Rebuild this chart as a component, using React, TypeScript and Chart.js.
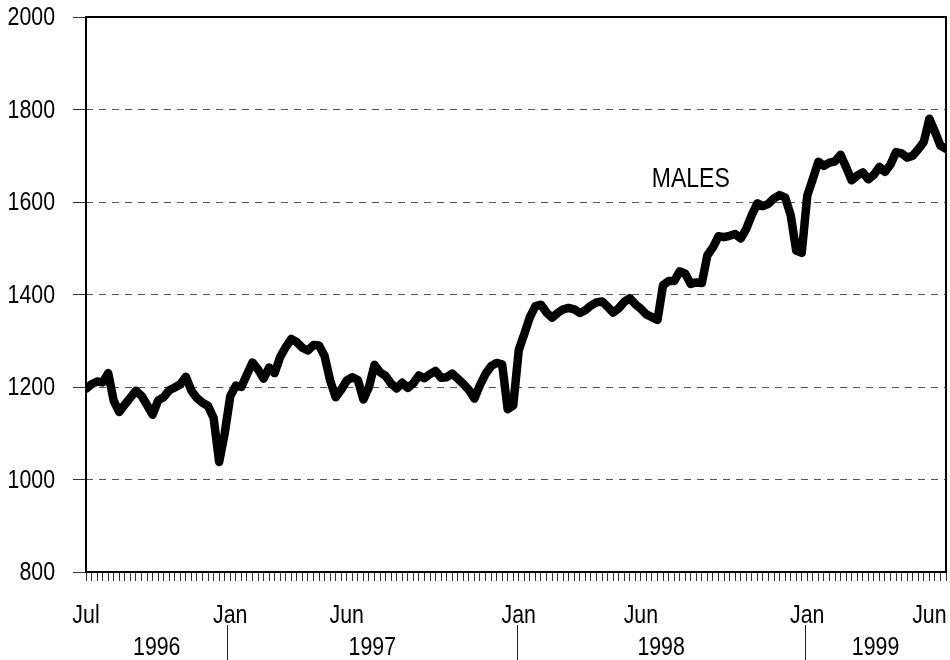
import React, { useEffect, useRef } from 'react';
import { Chart, registerables } from 'chart.js';

Chart.register(...registerables);

// Weekly series, first week of July 1996 to the last week of June 1999
const malesValues: number[] = [
  1196, 1206, 1212, 1210, 1230, 1170, 1146, 1162, 1177, 1192,
  1181, 1161, 1140, 1171, 1178, 1193, 1199, 1206, 1222, 1192,
  1176, 1166, 1159, 1133, 1038, 1100, 1180, 1203, 1200, 1227,
  1253, 1238, 1218, 1242, 1230, 1265, 1286, 1304, 1297, 1285,
  1279, 1291, 1290, 1267, 1214, 1178, 1194, 1214, 1221, 1215,
  1173, 1200, 1248, 1232, 1224, 1207, 1197, 1209, 1198, 1208,
  1225, 1219, 1228, 1235, 1220, 1221, 1229, 1218, 1207, 1194,
  1175, 1204, 1228, 1245, 1252, 1249, 1152, 1160, 1280, 1315,
  1351, 1375, 1378, 1361, 1350, 1360, 1368, 1371, 1368, 1360,
  1366, 1376, 1383, 1385, 1374, 1361, 1370, 1384, 1392, 1379,
  1369, 1357, 1351, 1345, 1420, 1429, 1429, 1450, 1445, 1423,
  1426, 1425, 1485, 1502, 1526, 1524, 1527, 1531, 1521, 1542,
  1572, 1597, 1591, 1596, 1608, 1615, 1610, 1572, 1495, 1490,
  1614, 1650, 1687, 1678, 1685, 1688, 1702, 1675, 1647, 1657,
  1664, 1649, 1659, 1676, 1665, 1681, 1708, 1705, 1696, 1700,
  1714, 1730, 1780, 1752, 1722, 1715,
];

const yMin = 800;
const yMax = 2000;
const yStep = 200;

const monthLabelWeeks: number[] = [0, 26, 47, 78, 100, 130, 152];
const monthLabels: string[] = ['Jul', 'Jan', 'Jun', 'Jan', 'Jun', 'Jan', 'Jun'];

const yearLabels: string[] = ['1996', '1997', '1998', '1999'];
const yearBoundaryWeeks: number[] = [25.5, 77.7, 129.6];

const seriesLabel = 'MALES';
const seriesLabelWeek = 109;
const seriesLabelValue = 1650;

const FONT = "'Liberation Sans', Arial, sans-serif";
const NARROW = 0.82;

function narrowText(ctx: CanvasRenderingContext2D, text: string, x: number, y: number) {
  ctx.save();
  ctx.translate(x, y);
  ctx.scale(NARROW, 1);
  ctx.fillText(text, 0, 0);
  ctx.restore();
}

const decorPlugin = {
  id: 'decor',
  beforeDatasetsDraw(chart: any) {
    const { ctx, chartArea } = chart;
    ctx.save();
    ctx.strokeStyle = '#000';
    ctx.lineWidth = 2;
    ctx.strokeRect(
      chartArea.left,
      chartArea.top,
      chartArea.right - chartArea.left,
      chartArea.bottom - chartArea.top
    );
    ctx.restore();
  },
  afterDraw(chart: any) {
    const { ctx, chartArea } = chart;
    const x = chart.scales.x;
    const y = chart.scales.y;
    ctx.save();
    ctx.fillStyle = '#000';

    // y tick labels
    ctx.font = `26px ${FONT}`;
    ctx.textAlign = 'right';
    ctx.textBaseline = 'middle';
    y.ticks.forEach((t: any) => {
      narrowText(ctx, String(t.value), chartArea.left - 31, y.getPixelForValue(t.value) + 1);
    });

    // month labels
    ctx.textAlign = 'center';
    monthLabelWeeks.forEach((w, i) => {
      narrowText(ctx, monthLabels[i], x.getPixelForValue(w), chartArea.bottom + 44);
    });

    // year separators
    ctx.strokeStyle = '#222';
    ctx.lineWidth = 1;
    yearBoundaryWeeks.forEach((w) => {
      const px = Math.round(x.getPixelForValue(w)) + 0.5;
      ctx.beginPath();
      ctx.moveTo(px, chartArea.bottom + 53);
      ctx.lineTo(px, chart.height);
      ctx.stroke();
    });

    // year labels centred between separators
    const edges = [x.min, ...yearBoundaryWeeks, x.max];
    yearLabels.forEach((t, i) => {
      const cx = (x.getPixelForValue(edges[i]) + x.getPixelForValue(edges[i + 1])) / 2;
      narrowText(ctx, t, cx, chartArea.bottom + 76);
    });

    // series label
    ctx.font = `28px ${FONT}`;
    narrowText(ctx, seriesLabel, x.getPixelForValue(seriesLabelWeek), y.getPixelForValue(seriesLabelValue));
    ctx.restore();
  },
};

export default function App() {
  const canvasRef = useRef<HTMLCanvasElement | null>(null);

  useEffect(() => {
    if (!canvasRef.current) return;
    const chart = new Chart(canvasRef.current, {
      type: 'line',
      data: {
        datasets: [
          {
            label: seriesLabel,
            data: malesValues.map((v, i) => ({ x: i, y: v })),
            borderColor: '#000',
            borderWidth: 8.5,
            pointRadius: 0,
            tension: 0,
            borderJoinStyle: 'round',
            borderCapStyle: 'round',
            fill: false,
          },
        ],
      },
      options: {
        responsive: false,
        animation: false,
        layout: { padding: { left: 0, top: 17, right: 4, bottom: 0 } },
        plugins: {
          legend: { display: false },
          tooltip: { enabled: false },
          title: { display: false },
        },
        scales: {
          x: {
            type: 'linear',
            min: 0,
            max: malesValues.length - 1,
            afterFit: (scale: any) => {
              scale.height = 88;
              scale.paddingLeft = 0;
              scale.paddingRight = 0;
            },
            afterBuildTicks: (scale: any) => {
              scale.ticks = malesValues.map((_, i) => ({ value: i }));
            },
            ticks: { display: false, autoSkip: false, maxRotation: 0 },
            grid: {
              drawOnChartArea: false,
              drawTicks: true,
              tickLength: 9,
              color: '#333',
              lineWidth: 1,
            },
            border: { display: false },
          },
          y: {
            type: 'linear',
            min: yMin,
            max: yMax,
            afterFit: (scale: any) => {
              scale.width = 86;
              scale.paddingTop = 0;
              scale.paddingBottom = 0;
            },
            ticks: { display: false, stepSize: yStep },
            grid: {
              drawOnChartArea: true,
              drawTicks: true,
              tickLength: 13,
              color: '#555',
              tickColor: '#333',
              lineWidth: 1,
            },
            border: { display: false, dash: [7, 6] },
          },
        },
      },
      plugins: [decorPlugin],
    } as any);
    return () => chart.destroy();
  }, []);

  return (
    <div style={{ position: 'absolute', left: 0, top: 0, width: 950, height: 660, background: '#fff' }}>
      <canvas ref={canvasRef} width={950} height={660} style={{ display: 'block' }} />
    </div>
  );
}
